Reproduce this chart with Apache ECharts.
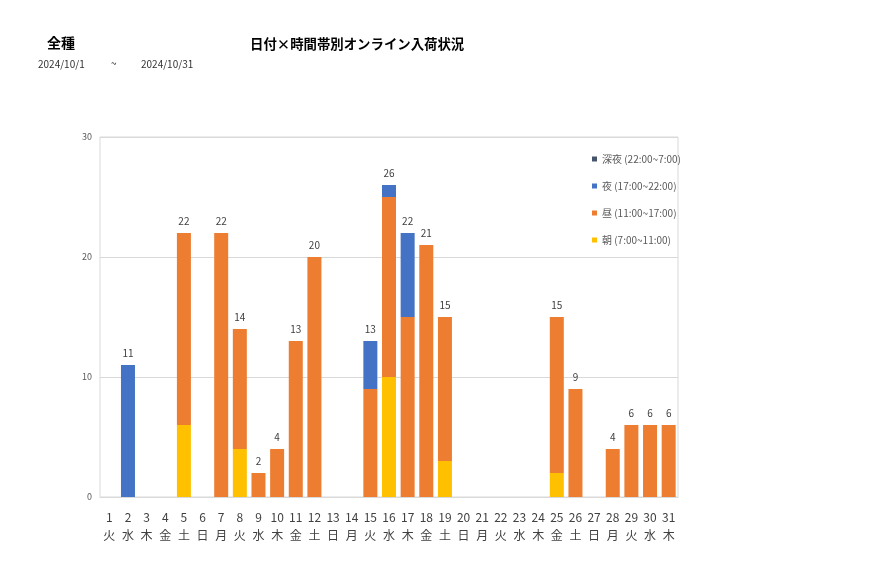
<!DOCTYPE html>
<html><head><meta charset="utf-8">
<script src="https://cdn.jsdelivr.net/npm/echarts@6/dist/echarts.min.js"></script>
<style>html,body{margin:0;padding:0;background:#fff}#c{width:877px;height:578px}</style>
</head><body><div id="c"></div>
<script>
const days = ['1','2','3','4','5','6','7','8','9','10','11','12','13','14','15','16','17','18','19','20','21','22','23','24','25','26','27','28','29','30','31'];
const weekdays = ['火','水','木','金','土','日','月','火','水','木','金','土','日','月','火','水','木','金','土','日','月','火','水','木','金','土','日','月','火','水','木'];
const morning = [0,0,0,0,6,0,0,4,0,0,0,0,0,0,0,10,0,0,3,0,0,0,0,0,2,0,0,0,0,0,0];
const daytime = [0,0,0,0,16,0,22,10,2,4,13,20,0,0,9,15,15,21,12,0,0,0,0,0,13,9,0,4,6,6,6];
const night   = [0,11,0,0,0,0,0,0,0,0,0,0,0,0,4,1,7,0,0,0,0,0,0,0,0,0,0,0,0,0,0];
const lateNight = [0,0,0,0,0,0,0,0,0,0,0,0,0,0,0,0,0,0,0,0,0,0,0,0,0,0,0,0,0,0,0];
const names = ['深夜 (22:00~7:00)','夜 (17:00~22:00)','昼 (11:00~17:00)','朝 (7:00~11:00)'];
const yTicks = {min:0,max:30,interval:10};
const totals = days.map((d,i)=>morning[i]+daytime[i]+night[i]+lateNight[i]);

const F = '"Noto Sans CJK JP", sans-serif';
const chart = echarts.init(document.getElementById('c'));
chart.setOption({
  animation:false,
  textStyle:{fontFamily:F},
  title:[
    {text:'全種',left:42,top:31,textStyle:{fontSize:14,fontWeight:'bold',color:'#000',fontFamily:F}},
    {text:'日付×時間帯別オンライン入荷状況',left:245,top:32,textStyle:{fontSize:13.4,fontWeight:'bold',color:'#000',fontFamily:F}},
    {text:'2024/10/1',left:33,top:54,textStyle:{fontSize:10,fontWeight:'normal',color:'#333',fontFamily:F}},
    {text:'~',left:106,top:53,textStyle:{fontSize:10,fontWeight:'normal',color:'#333',fontFamily:F}},
    {text:'2024/10/31',left:136,top:54,textStyle:{fontSize:10,fontWeight:'normal',color:'#333',fontFamily:F}}
  ],
  legend:{
    data:names, orient:'vertical', left:587, top:149, itemGap:17,
    icon:'rect', itemWidth:5, itemHeight:5,
    textStyle:{fontSize:10,color:'#595959',fontFamily:F}
  },
  grid:{left:100,right:199,top:137,bottom:81,show:true,borderColor:'#d9d9d9',borderWidth:1},
  xAxis:{
    type:'category', data:days,
    axisLine:{lineStyle:{color:'#d9d9d9'}}, axisTick:{show:false},
    axisLabel:{interval:0,color:'#404040',fontSize:12,lineHeight:18,margin:11,
      formatter:(v,i)=>v+'\n'+weekdays[i]}
  },
  yAxis:{
    type:'value', min:yTicks.min, max:yTicks.max, interval:yTicks.interval,
    splitLine:{lineStyle:{color:'#d9d9d9'}}, axisLine:{show:false}, axisTick:{show:false},
    axisLabel:{color:'#595959',fontSize:9,margin:8}
  },
  series:[
    {name:names[3],type:'bar',stack:'s',data:morning,barWidth:14,itemStyle:{color:'#FFC000'}},
    {name:names[2],type:'bar',stack:'s',data:daytime,itemStyle:{color:'#ED7D31'}},
    {name:names[1],type:'bar',stack:'s',data:night,itemStyle:{color:'#4472C4'}},
    {name:names[0],type:'bar',stack:'s',data:lateNight,itemStyle:{color:'#44546A'},
      label:{show:true,position:'top',distance:7,fontSize:10,color:'#404040',
        formatter:p=>totals[p.dataIndex]?String(totals[p.dataIndex]):''}}
  ]
});
</script></body></html>
